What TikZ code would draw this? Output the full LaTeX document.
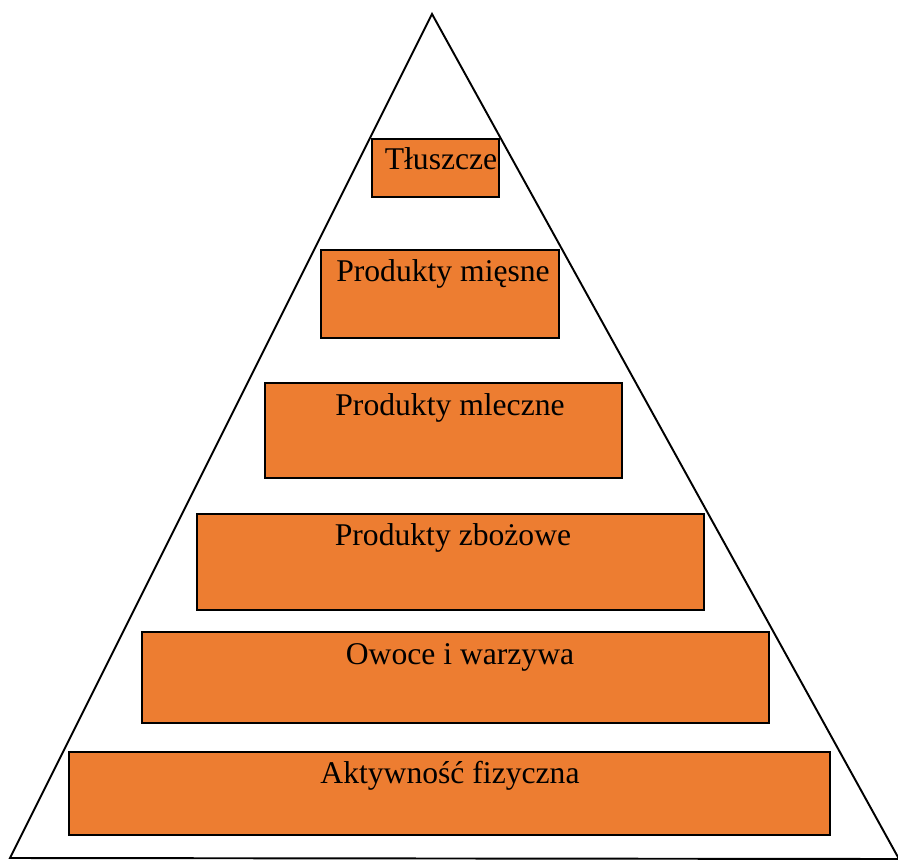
\documentclass[tikz,border=0pt]{standalone}
\usepackage{fontspec}
\setmainfont{Liberation Serif}
\usepackage{tikz}
\usetikzlibrary{positioning}
\definecolor{pomarancz}{RGB}{237,125,49}

\begin{document}
\begin{tikzpicture}[
  x=0.02cm, y=-0.02cm,
  font=\fontsize{18}{22}\selectfont,
  pole/.style={fill=pomarancz, draw=black, line width=1.1pt},
  napis/.style={anchor=base, inner sep=0pt}
]
\useasboundingbox (0,0) rectangle (898,864);

% ---------- Piramida ---------------------------------------------
\draw[line width=1.1pt, line join=miter] (432,14) -- (10,858) -- (899,859) -- cycle;

% ---------- Poziomy piramidy -------------------------------------
\filldraw[pole] (372,139) rectangle (499,197);
\node[napis] (tluszcze) at (441,170) {Tłuszcze};

\filldraw[pole] (321,250) rectangle (559,338);
\node[napis] (miesne) at (443,282) {Produkty mięsne};

\filldraw[pole] (265,383) rectangle (622,478);
\node[napis] (mleczne) at (450,415) {Produkty mleczne};

\filldraw[pole] (197,514) rectangle (704,610);
\node[napis] (zbozowe) at (453,545) {Produkty zbożowe};

\filldraw[pole] (142,632) rectangle (769,723);
\node[napis] (owoce) at (460,664) {Owoce i warzywa};

\filldraw[pole] (69,752) rectangle (830,835);
\node[napis] (aktywnosc) at (450,783) {Aktywność fizyczna};

\end{tikzpicture}
\end{document}
